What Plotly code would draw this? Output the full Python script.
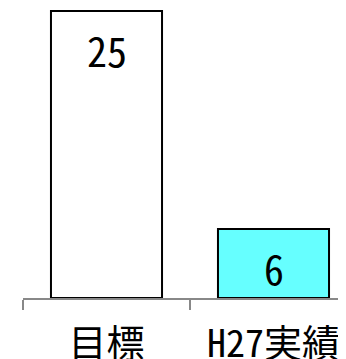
import plotly.graph_objects as go

categories = ["目標", "H27実績"]
values = [25, 6]
bar_colors = ["#FFFFFF", "#66FFFF"]

FONT = "Noto Sans Mono CJK JP, Noto Sans CJK JP, sans-serif"

fig = go.Figure()
fig.add_trace(go.Bar(
    x=categories,
    y=values,
    marker=dict(color=bar_colors, line=dict(color="#000000", width=2)),
    width=0.665,
    hoverinfo="skip",
))

# value labels near the top of each bar
for c, v in zip(categories, values):
    fig.add_annotation(
        x=c, y=v, text=str(v), showarrow=False,
        yanchor="middle", yshift=-39,
        font=dict(family=FONT, size=40, color="#000000"),
    )

# page body has an 8px margin, so the figure is sized to fit the window
fig.update_layout(
    width=338, height=351,
    margin=dict(l=15, r=0, t=0, b=61),
    paper_bgcolor="white", plot_bgcolor="white",
    showlegend=False,
    xaxis=dict(
        range=[-0.5, -0.5 + 323 / 167],
        tickson="boundaries",
        ticks="outside", ticklen=10, tickwidth=2, tickcolor="#888888",
        showline=True, linecolor="#888888", linewidth=2,
        showgrid=False,
        ticklabelstandoff=11,
        automargin=False,
        tickfont=dict(family=FONT, size=38, color="#000000"),
    ),
    yaxis=dict(
        range=[0, 290 / 11.48],
        visible=False, showgrid=False, zeroline=False,
    ),
)

fig.write_html("out.html")
